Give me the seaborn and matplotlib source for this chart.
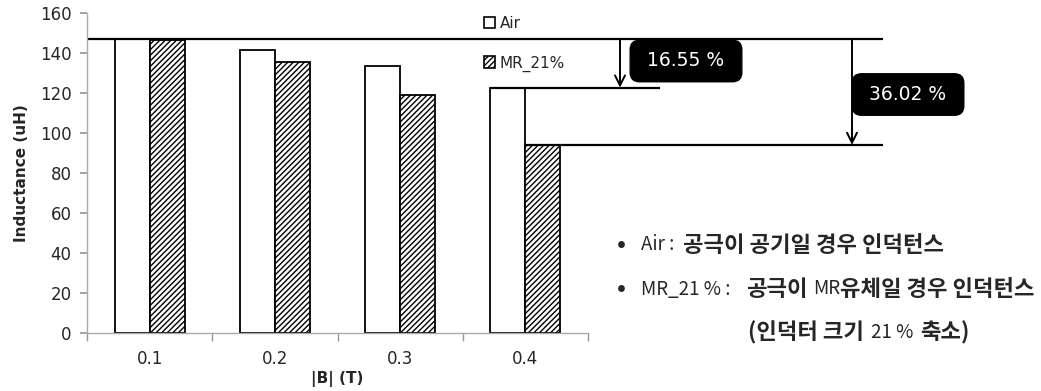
import matplotlib
matplotlib.use("Agg")
import matplotlib.pyplot as plt
import seaborn as sns
import pandas as pd
from matplotlib.patches import Patch

# ---- data ----
b_field = ["0.1", "0.2", "0.3", "0.4"]
air = [147.0, 141.3, 133.3, 122.7]
mr21 = [146.5, 135.3, 118.8, 94.05]
series_names = ["Air", "MR_21%"]
drop_labels = ["16.55 %", "36.02 %"]

sns.set_theme(style="white")
plt.rcParams["font.family"] = ["DejaVu Sans"]
plt.rcParams["hatch.linewidth"] = 1.0

df = pd.DataFrame({
    "B": b_field * 2,
    "L": air + mr21,
    "s": [series_names[0]] * 4 + [series_names[1]] * 4,
})

fig = plt.figure(figsize=(10.41, 3.91), dpi=100)
ax = fig.add_axes([87 / 1041, 1 - 333 / 391, (588 - 87) / 1041, (333 - 13) / 391])

sns.barplot(data=df, x="B", y="L", hue="s", ax=ax, width=0.56,
            palette=["white", "white"], edgecolor="black", linewidth=1.3,
            legend=False, saturation=1)
for p in ax.containers[1]:
    p.set_hatch("//////")

ax.set_ylim(0, 160)
ax.set_xlim(-0.5, 3.5)
ax.set_yticks(range(0, 161, 20))
ax.tick_params(axis="y", labelsize=12, length=5, color="#999999", left=True, pad=6)
ax.tick_params(axis="x", labelsize=12, length=0, pad=12)
ax.set_xticks([-0.5, 0.5, 1.5, 2.5, 3.5], minor=True)
ax.tick_params(axis="x", which="minor", length=6, color="#999999", bottom=True, direction="out")
for s in ["top", "right"]:
    ax.spines[s].set_visible(False)
for s in ["left", "bottom"]:
    ax.spines[s].set_color("#aaaaaa")
    ax.spines[s].set_linewidth(1.0)
ax.set_ylabel("Inductance (uH)", fontsize=11, fontweight="bold", labelpad=8)
ax.set_xlabel("|B| (T)", fontsize=11, fontweight="bold")
ax.xaxis.set_label_coords(0.5, -0.12)

# legend
handles = [Patch(facecolor="white", edgecolor="black", linewidth=1.2),
           Patch(facecolor="white", edgecolor="black", linewidth=1.2, hatch="//////")]
ax.legend(handles, series_names, loc="upper left", bbox_to_anchor=(0.78, 1.01),
          frameon=False, fontsize=11, handlelength=0.75, handleheight=0.75,
          handletextpad=0.3, labelspacing=1.6, borderaxespad=0)

# annotation lines (data coords)
def xd(px):
    return (px - 87) / 125.25 - 0.5

kw = dict(color="black", linewidth=1.6, clip_on=False, solid_capstyle="butt")
ax.plot([-0.5, xd(883)], [air[0], air[0]], **kw)
ax.plot([3 - 0.28, xd(660)], [air[3], air[3]], **kw)
ax.plot([3.0, xd(883)], [mr21[3], mr21[3]], **kw)

arrow_kw = dict(arrowstyle="->,head_length=0.6,head_width=0.3", color="black", lw=1.4,
                shrinkA=0, shrinkB=0)
ax.annotate("", xy=(xd(620), air[3]), xytext=(xd(620), air[0]),
            arrowprops=arrow_kw, annotation_clip=False)
ax.annotate("", xy=(xd(852), mr21[3]), xytext=(xd(852), air[0]),
            arrowprops=arrow_kw, annotation_clip=False)

box = dict(boxstyle="round,pad=0.6,rounding_size=0.5", facecolor="black", edgecolor="black")
ax.text(xd(686), (333 - 61) / 2, " " + drop_labels[0] + " ", color="white", fontsize=13.5,
        ha="center", va="center", bbox=box, clip_on=False)
ax.text(xd(908), (333 - 94.5) / 2, " " + drop_labels[1] + " ", color="white", fontsize=13.5,
        ha="center", va="center", bbox=box, clip_on=False)

# right-side notes
kr = ["Noto Sans CJK KR", "DejaVu Sans"]
fs_lat = 13.5
fs_kr = 16
def chain(prev, txt, bold, gap=0, fs=None):
    if fs is None:
        fs = fs_kr if bold else fs_lat
    return ax.annotate(txt, xy=(1, 0.5), xycoords=prev, xytext=(gap, 0),
                       textcoords="offset points", fontsize=fs, family=kr,
                       fontweight="bold" if bold else "normal", va="center", ha="left")

fig.text(621 / 1041, 1 - 245 / 391, "•", fontsize=17, family=kr, fontweight="bold",
         va="center", ha="center")
fig.text(621 / 1041, 1 - 289 / 391, "•", fontsize=17, family=kr, fontweight="bold",
         va="center", ha="center")
t = fig.text(641 / 1041, 1 - 245 / 391, "Air :", fontsize=fs_lat, family=kr, va="center")
chain(t, "공극이 공기일 경우 인덕턴스", True, 6)
t = fig.text(641 / 1041, 1 - 289 / 391, "MR_21 % :", fontsize=fs_lat, family=kr, va="center")
t = chain(t, "공극이", True, 11)
t = chain(t, "MR", False, 4)
chain(t, "유체일 경우 인덕턴스", True, 0)
t = fig.text(748 / 1041, 1 - 333 / 391, "(인덕터 크기", fontsize=fs_kr, family=kr,
             fontweight="bold", va="center")
t = chain(t, "21 %", False, 5)
chain(t, "축소)", True, 5)

fig.savefig("out.png", dpi=100)
